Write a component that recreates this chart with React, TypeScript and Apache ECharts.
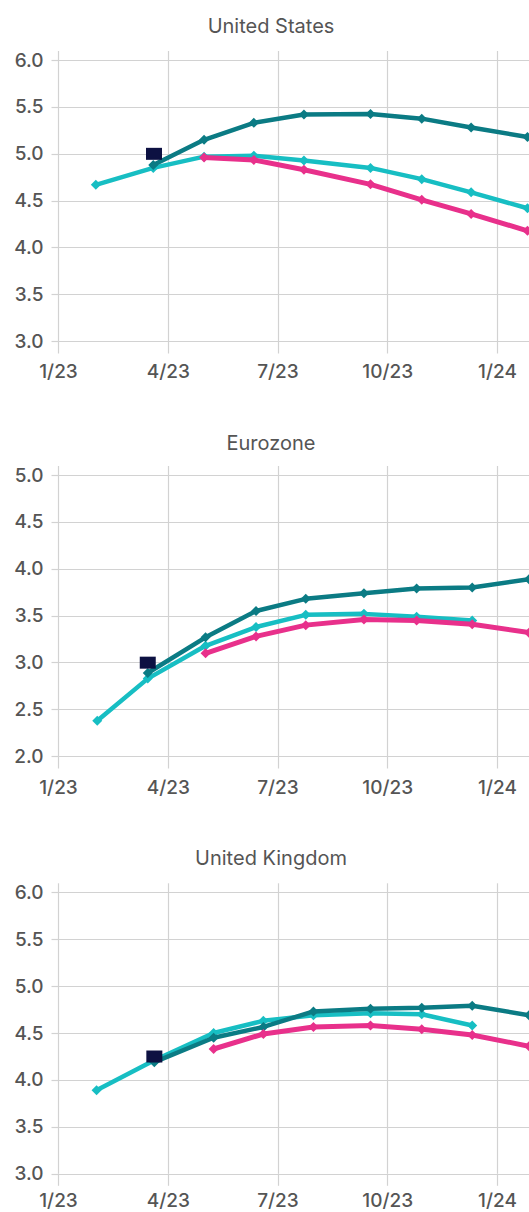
import React, { useEffect, useRef } from "react";
import * as echarts from "echarts";

// Meeting dates, in months since 1 Jan 2023
const usMonths = [1.02, 2.59, 3.98, 5.34, 6.71, 8.53, 9.93, 11.28, 12.82];
const usEarly = [4.67, 4.85, 4.97, 4.98, 4.93, 4.85, 4.73, 4.59, 4.42];
const usMid = [null, 4.88, 5.15, 5.33, 5.42, 5.425, 5.375, 5.28, 5.18];
const usLate = [null, null, 4.96, 4.935, 4.83, 4.675, 4.51, 4.36, 4.18];
const usPolicy = [2.61, 5.0];

const ezMonths = [1.06, 2.44, 4.02, 5.4, 6.76, 8.35, 9.79, 11.31, 12.86];
const ezEarly = [2.38, 2.83, 3.18, 3.38, 3.51, 3.52, 3.49, 3.45, null];
const ezMid = [null, 2.89, 3.27, 3.55, 3.68, 3.74, 3.79, 3.8, 3.89];
const ezLate = [null, null, 3.1, 3.28, 3.4, 3.46, 3.45, 3.41, 3.32];
const ezPolicy = [2.44, 3.0];

const ukMonths = [1.04, 2.62, 4.24, 5.6, 6.97, 8.53, 9.93, 11.31, 12.86];
const ukEarly = [3.89, 4.21, 4.5, 4.63, 4.69, 4.71, 4.7, 4.58, null];
const ukMid = [null, 4.19, 4.45, 4.565, 4.73, 4.76, 4.77, 4.79, 4.69];
const ukLate = [null, null, 4.33, 4.49, 4.565, 4.58, 4.54, 4.48, 4.36];
const ukPolicy = [2.62, 4.25];

const panelTitles = ["United States", "Eurozone", "United Kingdom"];
const yRanges = [
  [3, 6],
  [2, 5],
  [3, 6],
];

const COLORS = {
  early: "#17bec3",
  mid: "#0b7b84",
  late: "#e8308b",
  policy: "#0d1142",
  grid: "#d2d2d2",
  text: "#555555",
};

const FONT = "Inter, 'Noto Sans', sans-serif";

const pairs = (xs: number[], ys: (number | null)[]) =>
  xs.map((x, i) => [x, ys[i]]).filter((p) => p[1] !== null);

const monthLabel = (m: number) => {
  const month = (Math.round(m) % 12) + 1;
  const year = 23 + Math.floor(Math.round(m) / 12);
  return `${month}/${year}`;
};

const panels = [
  { months: usMonths, early: usEarly, mid: usMid, late: usLate, policy: usPolicy },
  { months: ezMonths, early: ezEarly, mid: ezMid, late: ezLate, policy: ezPolicy },
  { months: ukMonths, early: ukEarly, mid: ukMid, late: ukLate, policy: ukPolicy },
];

const gridTops = [60, 475, 892.3];
const titleY = [26, 443, 858];
const labelMargins = [20, 21, 17];
const GRID_H = 281.5;
const GRID_LEFT = 58.5;
const MONTH_PX = 36.58;
const X_MAX = 15;
// the plot runs past the visible frame on the right
const CANVAS_W = 612;

export default function App() {
  const ref = useRef<HTMLDivElement>(null);

  useEffect(() => {
    if (!ref.current) return;
    const chart = echarts.init(ref.current, null, { renderer: "svg" });

    const grid = gridTops.map((top) => ({
      left: GRID_LEFT,
      top,
      width: MONTH_PX * X_MAX,
      height: GRID_H,
      containLabel: false,
    }));

    const gridLine = { color: COLORS.grid, width: 1.2 };
    const xAxis: any[] = [];
    const yAxis: any[] = [];
    const series: any[] = [];

    panels.forEach((p, i) => {
      // bottom axis with labels and downward ticks
      xAxis.push({
        type: "value",
        gridIndex: i,
        min: 0,
        max: X_MAX,
        interval: 3,
        axisLine: { show: false },
        axisTick: { show: true, length: 12, lineStyle: gridLine },
        splitLine: { show: true, lineStyle: gridLine },
        axisLabel: {
          margin: labelMargins[i],
          color: COLORS.text,
          fontFamily: FONT,
          fontSize: 19,
          fontWeight: 500,
          showMaxLabel: false,
          formatter: (v: number) => monthLabel(v),
        },
      });
      // top axis: only short upward ticks extending the vertical grid lines
      xAxis.push({
        type: "value",
        gridIndex: i,
        position: "top",
        min: 0,
        max: X_MAX,
        interval: 3,
        axisLine: { show: false },
        axisTick: { show: true, length: 9, lineStyle: gridLine },
        splitLine: { show: false },
        axisLabel: { show: false },
      });
      yAxis.push({
        type: "value",
        gridIndex: i,
        min: yRanges[i][0],
        max: yRanges[i][1],
        interval: 0.5,
        axisLine: { show: false },
        axisTick: { show: true, length: 7, lineStyle: gridLine },
        splitLine: { show: true, lineStyle: gridLine },
        axisLabel: {
          margin: 15,
          color: COLORS.text,
          fontFamily: FONT,
          fontSize: 19,
          fontWeight: 500,
          formatter: (v: number) => v.toFixed(1),
        },
      });

      const lineBase = {
        type: "line",
        xAxisIndex: i * 2,
        yAxisIndex: i,
        symbol: "diamond",
        symbolSize: 10,
        showSymbol: true,
        clip: true,
      };
      series.push({
        ...lineBase,
        name: "early",
        data: pairs(p.months, p.early),
        itemStyle: { color: COLORS.early },
        lineStyle: { color: COLORS.early, width: 4.5 },
        z: 2,
      });
      series.push({
        ...lineBase,
        name: "mid",
        data: pairs(p.months, p.mid),
        itemStyle: { color: COLORS.mid },
        lineStyle: { color: COLORS.mid, width: 4.5 },
        z: 3,
      });
      series.push({
        ...lineBase,
        name: "late",
        data: pairs(p.months, p.late),
        itemStyle: { color: COLORS.late },
        lineStyle: { color: COLORS.late, width: 5 },
        z: 4,
      });
      series.push({
        type: "scatter",
        name: "policy",
        xAxisIndex: i * 2,
        yAxisIndex: i,
        symbol: "rect",
        symbolSize: [16, 12],
        data: [p.policy],
        itemStyle: { color: COLORS.policy, opacity: 1 },
        z: 5,
      });
    });

    const graphic = panelTitles.map((t, i) => ({
      type: "text",
      x: 271,
      y: titleY[i],
      style: {
        text: t,
        fill: COLORS.text,
        font: `400 20px ${FONT}`,
        textAlign: "center",
        textVerticalAlign: "middle",
        align: "center",
        verticalAlign: "middle",
      },
    }));

    chart.setOption({
      animation: false,
      backgroundColor: "#ffffff",
      grid,
      xAxis,
      yAxis,
      series,
      graphic,
    });

    return () => chart.dispose();
  }, []);

  return (
    <div
      style={{
        position: "absolute",
        left: 0,
        top: 0,
        width: 529,
        height: 1212,
        overflow: "hidden",
        background: "#ffffff",
      }}
    >
      <div ref={ref} style={{ width: CANVAS_W, height: 1212 }} />
    </div>
  );
}
